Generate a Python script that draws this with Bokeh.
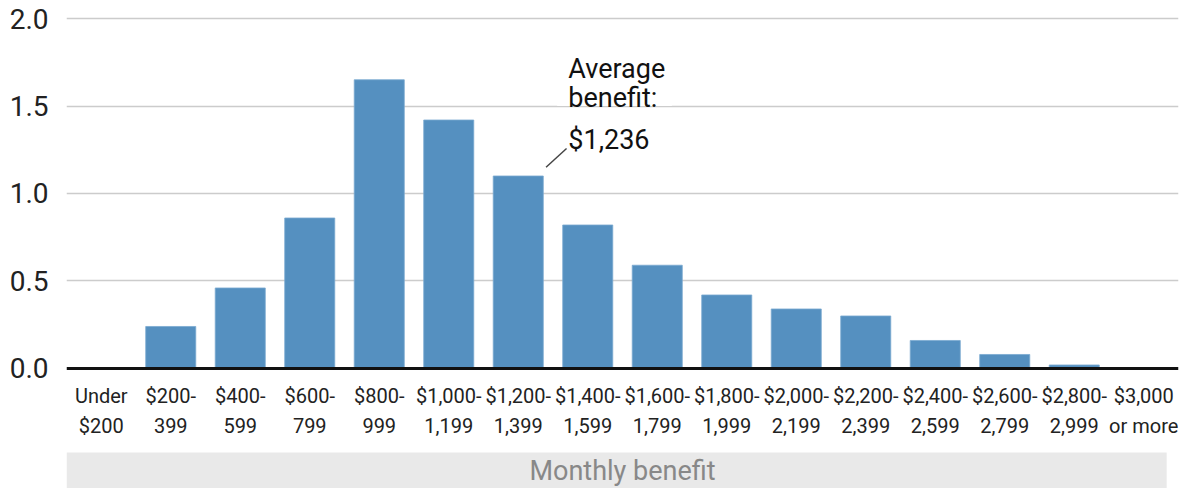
from bokeh.plotting import figure
from bokeh.models import Range1d, FixedTicker, Span, NumeralTickFormatter
from bokeh.core.properties import value
from bokeh.embed import file_html
from bokeh.resources import INLINE
import numpy as np

label_line1 = ["Under", "$200-", "$400-", "$600-", "$800-", "$1,000-", "$1,200-", "$1,400-",
               "$1,600-", "$1,800-", "$2,000-", "$2,200-", "$2,400-", "$2,600-", "$2,800-", "$3,000"]
label_line2 = ["$200", "399", "599", "799", "999", "1,199", "1,399", "1,599",
               "1,799", "1,999", "2,199", "2,399", "2,599", "2,799", "2,999", "or more"]
shares = [0.005, 0.24, 0.46, 0.86, 1.65, 1.42, 1.10, 0.82,
          0.59, 0.42, 0.34, 0.30, 0.16, 0.08, 0.02, 0.0]
y_ticks = [0.0, 0.5, 1.0, 1.5, 2.0]
x_title = "Monthly benefit"
note_lines = ["Average", "benefit:"]
note_value = "$1,236"

FONT = "Roboto"
pos = np.arange(len(shares))

p = figure(width=1182, height=488, output_backend="svg", toolbar_location=None,
           x_range=Range1d(-0.5, 15.5), y_range=Range1d(-0.686, 2.103),
           min_border_left=66, min_border_right=4, min_border_top=0, min_border_bottom=0,
           x_axis_location=None)
p.outline_line_color = None
p.background_fill_color = "white"

# y axis
ya = p.yaxis[0]
ya.ticker = FixedTicker(ticks=y_ticks)
ya.formatter = NumeralTickFormatter(format="0.0")
ya.axis_line_color = None
ya.major_tick_line_color = None
ya.minor_tick_line_color = None
ya.major_tick_out = 0
ya.major_tick_in = 0
ya.major_label_text_font = FONT
ya.major_label_text_font_size = "28px"
ya.major_label_text_color = "#222222"
ya.major_label_standoff = 18

p.xgrid.visible = False
p.ygrid.ticker = FixedTicker(ticks=y_ticks[1:])
p.ygrid.grid_line_color = "#cccccc"
p.ygrid.grid_line_width = 1.3

# bars
p.vbar(x=pos, top=shares, width=0.72, fill_color="#5590c0", line_color="#7aa9d0", line_width=0.8)

# zero line
p.add_layout(Span(location=0, dimension="width", line_color="#111111", line_width=3))

# category labels
p.text(x=pos, y=[-0.160] * len(pos), text=label_line1, text_align="center", text_baseline="middle",
       text_font=value(FONT), text_font_size="20px", text_color="#222222")
p.text(x=pos, y=[-0.326] * len(pos), text=label_line2, text_align="center", text_baseline="middle",
       text_font=value(FONT), text_font_size="20px", text_color="#222222")

# bottom band with axis title
p.quad(left=-0.5, right=15.33, bottom=-0.686, top=-0.48, fill_color="#e9e9e9", line_color=None)
p.text(x=[(pos[0] + pos[-1]) / 2], y=[-0.585], text=[x_title], text_align="center", text_baseline="middle",
       text_font=value(FONT), text_font_size="27px", text_color="#888888")

# annotation
p.quad(left=6.56, right=8.21, bottom=1.50, top=1.88, fill_color="white", line_color=None)
p.text(x=[6.72, 6.72], y=[1.709, 1.543], text=note_lines, text_align="left", text_baseline="alphabetic",
       text_font=value(FONT), text_font_size="27px", text_color="#111111")
p.text(x=[6.72], y=[1.303], text=[note_value], text_align="left", text_baseline="alphabetic",
       text_font=value(FONT), text_font_size="27px", text_color="#111111")
p.segment(x0=[6.40], y0=[1.150], x1=[6.695], y1=[1.257], line_color="#444444", line_width=1.5)

open("out.html", "w").write(file_html(p, INLINE))
